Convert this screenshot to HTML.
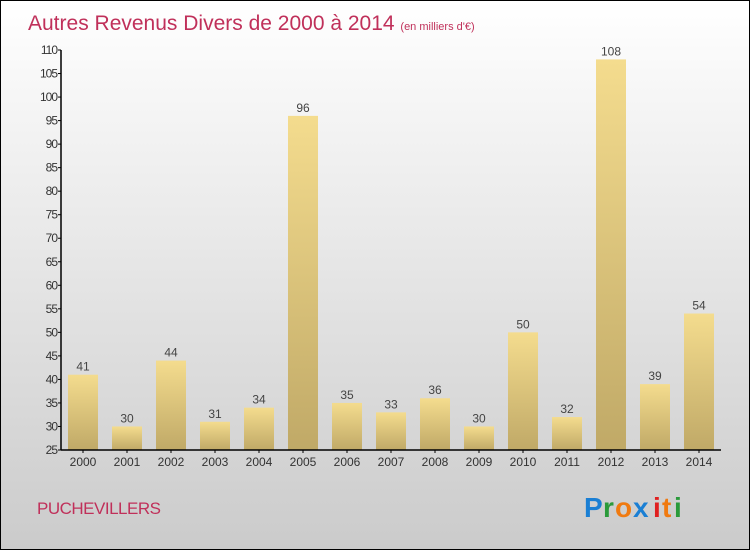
<!DOCTYPE html>
<html><head><meta charset="utf-8"><style>
html,body{margin:0;padding:0;}
#wrap{position:relative;width:748px;height:548px;border:1px solid #000;background:linear-gradient(#ffffff,#cbcbcb);font-family:"Liberation Sans",sans-serif;overflow:hidden;}
</style></head><body>
<div id="wrap">
<svg id="chart" width="748" height="548" style="position:absolute;left:0;top:0">
<defs>
<linearGradient id="bg" x1="0" y1="0" x2="0" y2="1"><stop offset="0" stop-color="#f4dc8e"/><stop offset="1" stop-color="#c0a967"/></linearGradient>
</defs>
<text x="27" y="29" font-size="21" fill="#c0305a">Autres Revenus Divers de 2000 à 2014 <tspan font-size="11">(en milliers d'€)</tspan></text>
<text x="36" y="513" font-size="17" fill="#c0305a" letter-spacing="-0.5">PUCHEVILLERS</text>
<g font-size="28" font-weight="bold">
<text x="583" y="516" fill="#1a7fd4">P</text><text x="602" y="516" fill="#2a9a3a">r</text><text x="614" y="516" fill="#f07a10">o</text><text x="632" y="516" fill="#1a7fd4">x</text><text x="652" y="516" fill="#e02020">i</text><text x="661" y="516" fill="#f07a10">t</text><text x="673" y="516" fill="#2a9a3a">i</text>
</g>
<g id="marks"></g>
</svg>
</div>
<script>
const years=["2000","2001","2002","2003","2004","2005","2006","2007","2008","2009","2010","2011","2012","2013","2014"];
const values=[41,30,44,31,34,96,35,33,36,30,50,32,108,39,54];
const yTicks=[25,30,35,40,45,50,55,60,65,70,75,80,85,90,95,100,105,110];
const NS="http://www.w3.org/2000/svg";
const x0=60,x1=720,yb=449,yt=49,vmin=25,vmax=110;
const slot=(x1-x0)/years.length;
const yS=v=>yb-(v-vmin)/(vmax-vmin)*(yb-yt);
const xS=i=>x0+slot*i+slot/2;
const g=document.getElementById('marks');
function mk(t,a){const e=document.createElementNS(NS,t);for(const k in a)e.setAttribute(k,a[k]);g.appendChild(e);return e;}
values.forEach((v,i)=>{
 const r=mk('rect',{x:xS(i)-15,y:yS(v),width:30,height:yb-yS(v),fill:'url(#bg)'});
 
 
 const t=mk('text',{x:xS(i),y:yS(v)-4,'text-anchor':'middle','font-size':12,fill:'#444'});
 t.textContent=v;
 
 
 const xl=mk('text',{x:xS(i),y:yb+16,'text-anchor':'middle','font-size':12,fill:'#333'});
 xl.textContent=years[i];
 
 
 mk('line',{x1:xS(i),x2:xS(i),y1:yb,y2:yb+3,stroke:'#000'});
});
yTicks.forEach(v=>{
 const y=yS(v);
 mk('line',{x1:x0-3,x2:x0,y1:y,y2:y,stroke:'#000'});
 const t=mk('text',{x:x0-4,y:y+4,'text-anchor':'end','font-size':12,fill:'#333','letter-spacing':'-1'});
 t.textContent=v;
 
 
});
const ya=mk('line',{x1:x0,x2:x0,y1:yt,y2:yb,stroke:'#000','stroke-width':1.5});


const xa=mk('line',{x1:x0,x2:x1,y1:yb,y2:yb,stroke:'#000','stroke-width':1.5});


</script>
</body></html>
